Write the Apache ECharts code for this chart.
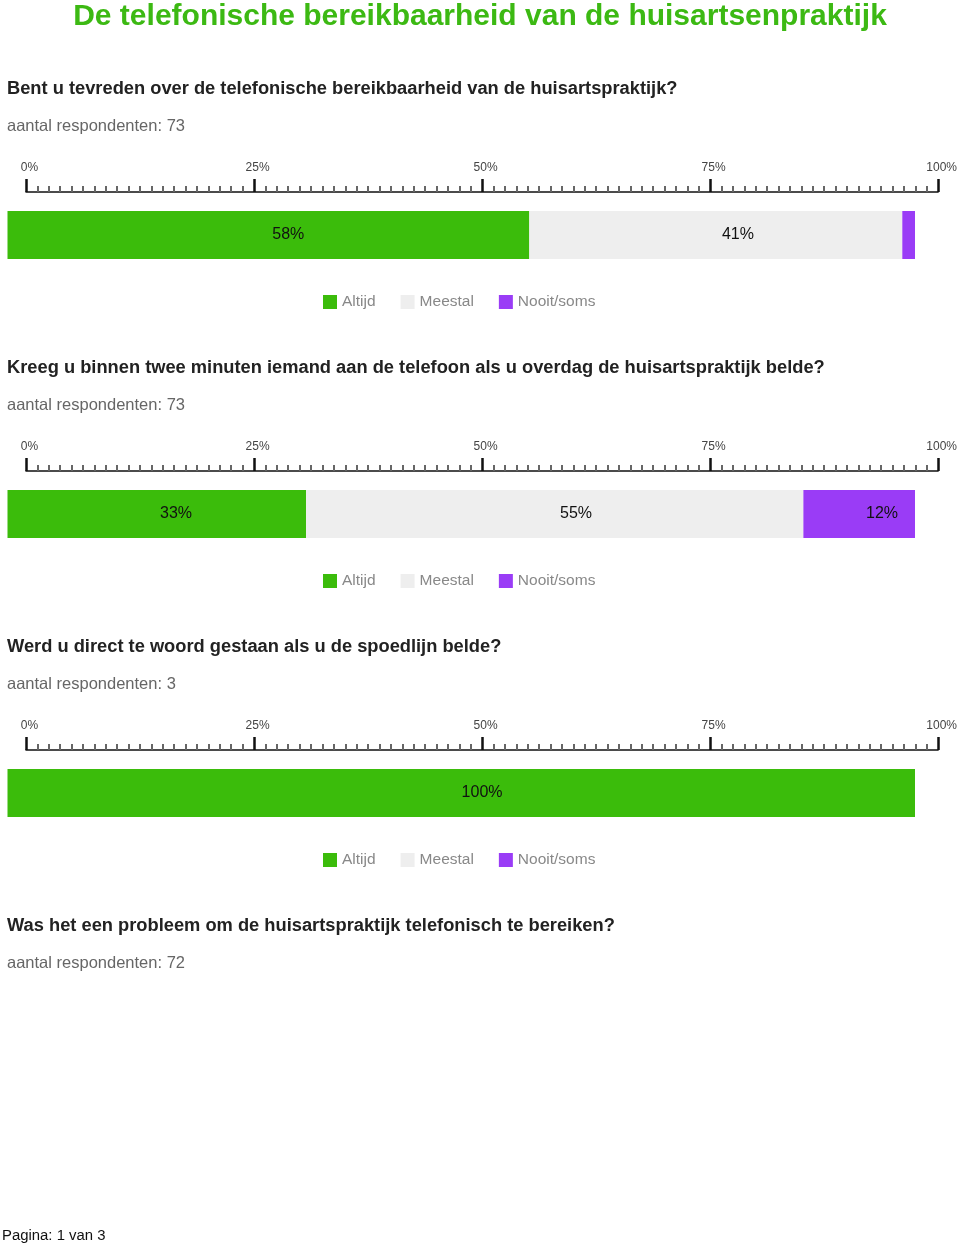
<!DOCTYPE html>
<html>
<head>
<meta charset="utf-8">
<script src="https://cdn.jsdelivr.net/npm/echarts@6/dist/echarts.min.js"></script>
<style>
html,body{margin:0;padding:0;background:#fff;}
#chart{width:960px;height:1245px;}
</style>
</head>
<body>
<div id="chart"></div>
<script>
const mainTitle = 'De telefonische bereikbaarheid van de huisartsenpraktijk';
const questions = [
  'Bent u tevreden over de telefonische bereikbaarheid van de huisartspraktijk?',
  'Kreeg u binnen twee minuten iemand aan de telefoon als u overdag de huisartspraktijk belde?',
  'Werd u direct te woord gestaan als u de spoedlijn belde?',
  'Was het een probleem om de huisartspraktijk telefonisch te bereiken?'
];
const respondents = [73, 73, 3, 72];
const categories = ['Altijd', 'Meestal', 'Nooit/soms'];
const q1Values = [57.5, 41.1, 1.4];
const q2Values = [32.9, 54.8, 12.3];
const q3Values = [100, 0, 0];
const chartValues = [q1Values, q2Values, q3Values];
const tickLabels = ['0%', '25%', '50%', '75%', '100%'];
const footer = 'Pagina: 1 van 3';

const colors = ['#3bbc0b', '#eeeeee', '#9a3cf6'];
const FONT = 'Liberation Sans, Arial, Helvetica, sans-serif';
const STEP = 279;

const chart = echarts.init(document.getElementById('chart'), null, {renderer: 'canvas'});

const titles = [{
  text: mainTitle, left: 'center', top: 2, padding: 0,
  textStyle: {fontFamily: FONT, fontSize: 30, fontWeight: 'bold', color: '#3cb913'}
}];
questions.forEach((q, i) => {
  titles.push({text: q, left: 7, top: 80 + i * STEP, padding: 0,
    textStyle: {fontFamily: FONT, fontSize: 18.3, fontWeight: 'bold', color: '#222'}});
  titles.push({text: 'aantal respondenten: ' + respondents[i], left: 7, top: 118 + i * STEP, padding: 0,
    textStyle: {fontFamily: FONT, fontSize: 16.5, fontWeight: 'normal', color: '#666'}});
});
titles.push({text: footer, left: 2, top: 1228, padding: 0,
  textStyle: {fontFamily: FONT, fontSize: 14.9, fontWeight: 'normal', color: '#111'}});

const grids = [], xAxes = [], yAxes = [], series = [], legends = [];
chartValues.forEach((vals, c) => {
  const top = 211 + c * STEP;
  grids.push({left: 26, width: 914, top: top, height: 48});
  grids.push({left: 7.5, width: 907.5, top: top, height: 48});
  const gA = c * 2, gB = c * 2 + 1;
  xAxes.push({
    gridIndex: gA, type: 'value', min: 0, max: 100, interval: 25, position: 'top', offset: 19,
    axisLine: {show: true, lineStyle: {color: '#111', width: 1.5}},
    axisTick: {show: true, length: 13, lineStyle: {color: '#111', width: 2.5}},
    minorTick: {show: true, splitNumber: 20, length: 6, lineStyle: {color: '#666', width: 2}},
    splitLine: {show: false},
    axisLabel: {show: true, margin: 18, fontFamily: FONT, fontSize: 12, color: '#444',
      padding: [0, 0, 0, 7], formatter: (v) => tickLabels[v / 25]}
  });
  xAxes.push({gridIndex: gB, type: 'value', min: 0, max: 100, show: false});
  yAxes.push({gridIndex: gA, type: 'category', data: ['q'], show: false});
  yAxes.push({gridIndex: gB, type: 'category', data: ['q'], show: false});
  categories.forEach((name, k) => {
    series.push({
      name: name, type: 'bar', xAxisIndex: gB, yAxisIndex: gB, stack: 'bars' + c,
      barWidth: '100%', data: [vals[k]], itemStyle: {color: colors[k]}, silent: true,
      label: {show: false}
    });
  });
  categories.forEach((name, k) => {
    series.push({
      name: 'lbl' + c + '_' + k, type: 'bar', xAxisIndex: gA, yAxisIndex: gA, stack: 'labels' + c,
      barWidth: '100%', data: [vals[k]], itemStyle: {color: 'rgba(0,0,0,0)'}, silent: true,
      label: {show: true, position: 'inside', fontFamily: FONT, fontSize: 16, color: '#111',
        formatter: (p) => p.value >= 5 ? Math.round(p.value) + '%' : ''}
    });
  });
  legends.push({
    data: categories, left: 323, top: 294 + c * STEP, itemWidth: 14, itemHeight: 14, itemGap: 25,
    icon: 'rect', selectedMode: false, padding: 0,
    textStyle: {fontFamily: FONT, fontSize: 15.5, color: '#888'}
  });
});

chart.setOption({
  animation: false,
  backgroundColor: '#fff',
  title: titles,
  legend: legends,
  grid: grids,
  xAxis: xAxes,
  yAxis: yAxes,
  series: series
});
</script>
</body>
</html>
